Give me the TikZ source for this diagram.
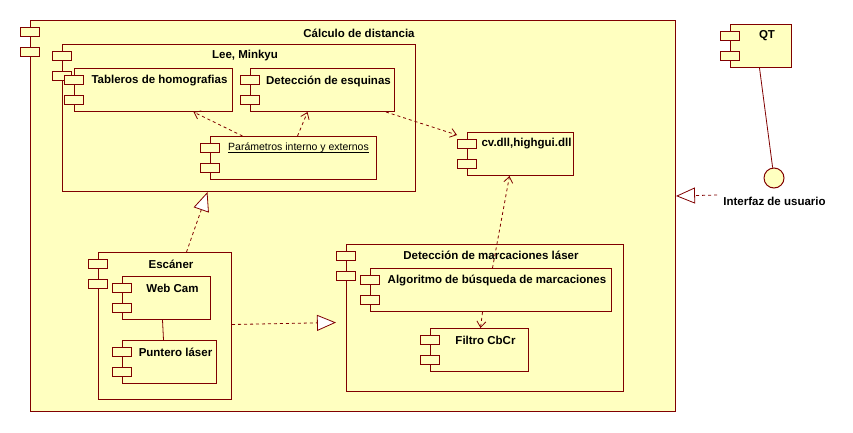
\documentclass[tikz,border=0pt]{standalone}
\usepackage{fontspec}
\setmainfont{Liberation Sans}
\usetikzlibrary{arrows.meta}
\definecolor{umlfill}{HTML}{FFFFC0}
\definecolor{umlline}{HTML}{800000}
\tikzset{
  comp/.style={draw=umlline, fill=umlfill, line width=1pt, inner sep=0pt, anchor=north west},
  tabbox/.style={draw=umlline, fill=umlfill, line width=1pt},
  ttl/.style={font=\bfseries\fontsize{11.5}{13}\selectfont, inner sep=0pt, text=black},
  nrm/.style={font=\fontsize{10.5}{12}\selectfont, inner sep=0pt, text=black},
  dep/.style={draw=umlline, line width=0.8pt, dash pattern=on 3pt off 3pt, -{Straight Barb[length=6pt,width=9pt]}},
  real/.style={draw=umlline, line width=0.8pt, dash pattern=on 3pt off 3pt, -{Triangle[open, length=19pt, width=16pt, fill=white]}},
  solidl/.style={draw=umlline, line width=0.8pt},
}
\newcommand{\comptabs}[1]{%
  \draw[tabbox] ([xshift=-10pt,yshift=-7pt]#1.north west) rectangle ++(19,9);
  \draw[tabbox] ([xshift=-10pt,yshift=-27pt]#1.north west) rectangle ++(19,9);
}
\begin{document}
\begin{tikzpicture}[x=1pt,y=-1pt]
\useasboundingbox (0,0) rectangle (853,432);
% outer
\node[comp, minimum width=645pt, minimum height=391pt] (calc) at (30,20) {};
\comptabs{calc}
\node[ttl] (calct) at ([xshift=6pt,yshift=-13pt]calc.north) {Cálculo de distancia};
% Lee
\node[comp, minimum width=353pt, minimum height=147pt] (lee) at (62,44) {};
\comptabs{lee}
\node[ttl] (leet) at ([xshift=6pt,yshift=-12pt]lee.north) {Lee, Minkyu};
% Tableros
\node[comp, minimum width=158pt, minimum height=43pt] (tab) at (74,68) {};
\comptabs{tab}
\node[ttl] (tabt) at ([xshift=6pt,yshift=-13pt]tab.north) {Tableros de homografias};
% Deteccion esquinas
\node[comp, minimum width=144pt, minimum height=43pt] (esq) at (250,68) {};
\comptabs{esq}
\node[ttl] (esqt) at ([xshift=6pt,yshift=-13pt]esq.north) {Detección de esquinas};
% Parametros
\node[comp, minimum width=166pt, minimum height=43pt] (par) at (210,136) {};
\comptabs{par}
\node[nrm] (part) at ([xshift=5pt,yshift=-12pt]par.north) {Parámetros interno y externos};
\draw[line width=0.6pt] ([yshift=-1.8pt]part.base west) -- ([yshift=-1.8pt]part.base east);
% cv
\node[comp, minimum width=106pt, minimum height=43pt] (cv) at (467,132) {};
\comptabs{cv}
\node[ttl] (cvt) at ([xshift=6pt,yshift=-12pt]cv.north) {cv.dll,highgui.dll};
% Escaner
\node[comp, minimum width=133pt, minimum height=147pt] (esc) at (98,252) {};
\comptabs{esc}
\node[ttl] (esct) at ([xshift=6pt,yshift=-12pt]esc.north) {Escáner};
% Web Cam
\node[comp, minimum width=88pt, minimum height=43pt] (web) at (122,276) {};
\comptabs{web}
\node[ttl] (webt) at ([xshift=6pt,yshift=-12pt]web.north) {Web Cam};
% Puntero
\node[comp, minimum width=94pt, minimum height=43pt] (pun) at (122,340) {};
\comptabs{pun}
\node[ttl] (punt) at ([xshift=6pt,yshift=-12pt]pun.north) {Puntero láser};
% Deteccion marcaciones
\node[comp, minimum width=277pt, minimum height=147pt] (dml) at (346,244) {};
\comptabs{dml}
\node[ttl] (dmlt) at ([xshift=6pt,yshift=-11pt]dml.north) {Detección de marcaciones láser};
% Algoritmo
\node[comp, minimum width=241pt, minimum height=43pt] (alg) at (370,268) {};
\comptabs{alg}
\node[ttl] (algt) at ([xshift=6pt,yshift=-12pt]alg.north) {Algoritmo de búsqueda de marcaciones};
% Filtro
\node[comp, minimum width=98pt, minimum height=43pt] (fil) at (430,328) {};
\comptabs{fil}
\node[ttl] (filt) at ([xshift=6pt,yshift=-12pt]fil.north) {Filtro CbCr};
% QT
\node[comp, minimum width=61pt, minimum height=43pt] (qt) at (730,24) {};
\comptabs{qt}
\node[ttl] (qtt) at ([xshift=6pt,yshift=-12pt]qt.north) {QT};
% interface
\node[circle, draw=umlline, fill=umlfill, line width=1pt, minimum size=20pt, inner sep=0pt] (ifc) at (774,178) {};
\node[ttl] (ifct) at (774.5,201) {Interfaz de usuario};
\coordinate (ifcs) at (717,195);
% connectors
\draw[dep] ([xshift=-51pt]par.north) -- ([xshift=40pt]tab.south);
\draw[dep] ([xshift=4pt]par.north) -- ([xshift=-15pt]esq.south);
\draw[dep] ([xshift=-9pt]esq.south east) -- ([xshift=-10pt,yshift=-3pt]cv.north west);
\draw[dep] ([xshift=1.5pt]alg.north) -- ([xshift=-11pt]cv.south);
\draw[dep] ([xshift=-8.5pt]alg.south) -- ([xshift=1pt]fil.north);
\draw[solidl] ([xshift=-4pt]web.south) -- ([xshift=-6pt]pun.north);
\draw[solidl] ([xshift=-1.5pt]qt.south) -- (ifc);
\draw[real] ([xshift=21.5pt]esc.north) -- ([xshift=-31.5pt]lee.south);
\draw[real] ([yshift=1.5pt]esc.east) -- ([xshift=-10pt,yshift=-4.5pt]dml.west);
\draw[real] (ifcs) -- ([yshift=20pt]calc.east);
\end{tikzpicture}
\end{document}
